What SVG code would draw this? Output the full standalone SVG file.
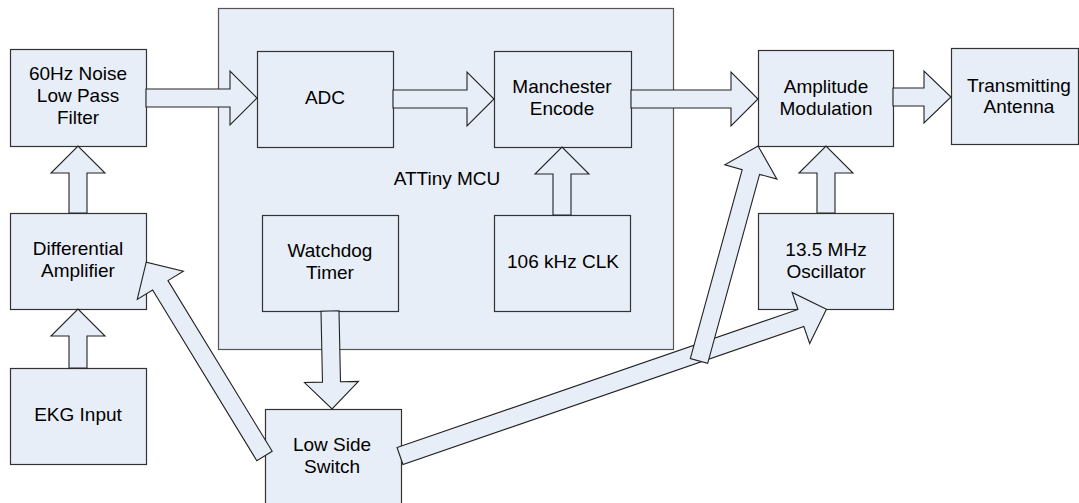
<svg xmlns="http://www.w3.org/2000/svg" width="1079" height="503" viewBox="0 0 1079 503">
<style>
.box{fill:#E8EEF7;stroke:#333;stroke-width:1.2}
.mcu{fill:#E8EEF7;stroke:#555;stroke-width:1.2}
.arr{fill:#E8EEF7;stroke:#222;stroke-width:1.1;stroke-linejoin:miter}
text{font-family:"Liberation Sans",Arial,sans-serif;font-size:19px;fill:#000;text-anchor:middle}
</style>
<rect width="1079" height="503" fill="#fff"/>
<g id="mcu">
<rect class="mcu" x="218.5" y="8.5" width="455" height="341"/>
<text x="447" y="185">ATTiny MCU</text>
</g>
<g id="lpf"><rect class="box" x="10.5" y="49.5" width="136" height="97"/>
<text x="78" y="80">60Hz Noise</text><text x="78" y="102">Low Pass</text><text x="78" y="124">Filter</text></g>
<g id="adc"><rect class="box" x="257.5" y="51.5" width="136" height="96"/>
<text x="325" y="104">ADC</text></g>
<g id="manchester"><rect class="box" x="494.5" y="51.5" width="137" height="96"/>
<text x="562" y="93">Manchester</text><text x="562" y="115">Encode</text></g>
<g id="am"><rect class="box" x="758.5" y="50.5" width="135" height="96"/>
<text x="826" y="93">Amplitude</text><text x="826" y="115">Modulation</text></g>
<g id="antenna"><rect class="box" x="951.5" y="48.5" width="127" height="96"/>
<text x="1019" y="92">Transmitting</text><text x="1019" y="113">Antenna</text></g>
<g id="diffamp"><rect class="box" x="10.5" y="213.5" width="136" height="96"/>
<text x="78" y="255">Differential</text><text x="78" y="277">Amplifier</text></g>
<g id="ekg"><rect class="box" x="10.5" y="368.5" width="136" height="96"/>
<text x="78" y="421">EKG Input</text></g>
<g id="watchdog"><rect class="box" x="262.5" y="215.5" width="136" height="96"/>
<text x="330" y="257">Watchdog</text><text x="330" y="279">Timer</text></g>
<g id="clk"><rect class="box" x="494.5" y="215.5" width="136" height="96"/>
<text x="563" y="268">106 kHz CLK</text></g>
<g id="lss"><rect class="box" x="265.5" y="409.5" width="136" height="100"/>
<text x="332" y="451">Low Side</text><text x="332" y="473">Switch</text></g>
<g id="osc"><rect class="box" x="758.5" y="213.5" width="135" height="96"/>
<text x="826" y="256">13.5 MHz</text><text x="826" y="278">Oscillator</text></g>
<g id="connectors">
<polygon class="arr" transform="translate(146,98)" points="0,-9 84,-9 84,-27 111,0 84,27 84,9 0,9"/>
<polygon class="arr" transform="translate(393,99)" points="0,-9 74,-9 74,-27 101,0 74,27 74,9 0,9"/>
<polygon class="arr" transform="translate(631,99)" points="0,-9 100,-9 100,-27 127,0 100,27 100,9 0,9"/>
<polygon class="arr" transform="translate(893,97)" points="0,-9 31,-9 31,-26 58,0 31,26 31,9 0,9"/>
<polygon class="arr" transform="translate(78,213) rotate(-90)" points="0,-9 40,-9 40,-27 67,0 40,27 40,9 0,9"/>
<polygon class="arr" transform="translate(78,368) rotate(-90)" points="0,-9 32,-9 32,-27 59,0 32,27 32,9 0,9"/>
<polygon class="arr" transform="translate(562,215) rotate(-90)" points="0,-9 41,-9 41,-27 68,0 41,27 41,9 0,9"/>
<polygon class="arr" transform="translate(826,213) rotate(-90)" points="0,-9 40,-9 40,-27 67,0 40,27 40,9 0,9"/>
<polygon class="arr" transform="translate(330,311) rotate(88.8)" points="0,-9 71,-9 71,-27 98,0 71,27 71,9 0,9"/>
<polygon class="arr" transform="translate(264.5,456) rotate(-121.4)" points="0,-9 200,-9 200,-27 227,0 200,27 200,9 0,9"/>
<polygon class="arr" transform="translate(400,456) rotate(-19)" points="0,-9 424,-9 424,-27 451,0 424,27 424,9 0,9"/>
<polygon class="arr" transform="translate(699,361) rotate(-74.65)" points="0,-9 196,-9 196,-27 223,0 196,27 196,9 0,9"/>
</g>
</svg>
